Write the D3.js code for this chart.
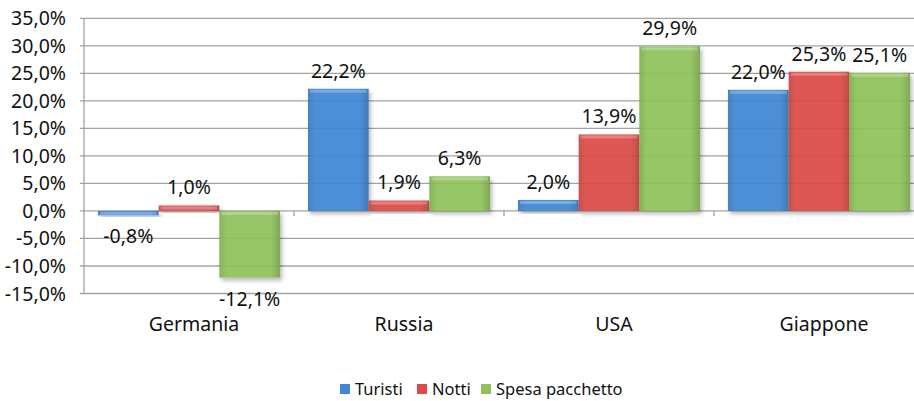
<!DOCTYPE html>
<html>
<head>
<meta charset="utf-8">
<script src="https://cdn.jsdelivr.net/npm/d3@7"></script>
<style>
  body { margin: 0; background: #fff; }
  text { font-family: "Noto Sans", "Open Sans", sans-serif; fill: #111; }
</style>
</head>
<body>
<div class="main"></div>
<script>
// data
const categories = ["Germania", "Russia", "USA", "Giappone"];
const seriesNames = ["Turisti", "Notti", "Spesa pacchetto"];
const turisti = [-0.8, 22.2, 2.0, 22.0];
const notti = [1.0, 1.9, 13.9, 25.3];
const spesa = [-12.1, 6.3, 29.9, 25.1];
const yTicks = [-15, -10, -5, 0, 5, 10, 15, 20, 25, 30, 35];
const colors = ["#3f87d4", "#dc4c48", "#8fc25a"];

const values = [turisti, notti, spesa];
const rows = [];
categories.forEach((c, i) => {
    seriesNames.forEach((s, j) => {
        rows.push({ cat: c, series: s, idx: j, value: values[j][i] });
    });
});

const width = 914;
const height = 401;

const svg = d3.select(".main").append("svg")
    .attr("width", width)
    .attr("height", height);

const locale = d3.formatLocale({ decimal: ",", thousands: ".", grouping: [3], currency: ["", "€"], minus: "-" });
const fmt = v => locale.format(".1f")(v) + "%";

let y = d3.scaleLinear().domain([-15, 35]).range([293.5, 18.3]);
let x0 = d3.scaleBand().domain(categories).range([84, 924]);
let x1 = d3.scaleBand().domain(seriesNames).range([14, 196]);

// gradients for the bars
const defs = svg.append("defs");
colors.forEach((c, j) => {
    const g = defs.append("linearGradient")
        .attr("id", "grad" + j)
        .attr("x1", 0).attr("x2", 1).attr("y1", 0).attr("y2", 0);
    g.append("stop").attr("offset", "0%").attr("stop-color", d3.color(c).darker(0.3));
    g.append("stop").attr("offset", "12%").attr("stop-color", c);
    g.append("stop").attr("offset", "85%").attr("stop-color", c);
    g.append("stop").attr("offset", "100%").attr("stop-color", d3.color(c).darker(0.5));
});
const shadow = defs.append("filter").attr("id", "shadow")
    .attr("x", "-10%").attr("y", "-10%").attr("width", "130%").attr("height", "130%");
shadow.append("feDropShadow")
    .attr("dx", 2).attr("dy", 3).attr("stdDeviation", 2)
    .attr("flood-color", "#000").attr("flood-opacity", 0.3);

// gridlines
svg.append("g")
    .selectAll("line")
    .data(yTicks)
    .enter().append("line")
    .attr("x1", 80)
    .attr("x2", width)
    .attr("y1", d => y(d))
    .attr("y2", d => y(d))
    .attr("stroke", "#a3a3a3")
    .attr("stroke-width", 1.3);

// y axis line
svg.append("line")
    .attr("x1", 84).attr("x2", 84)
    .attr("y1", y(35)).attr("y2", y(-15))
    .attr("stroke", "#a3a3a3")
    .attr("stroke-width", 1.3);

// y labels
svg.append("g")
    .selectAll("text")
    .data(yTicks)
    .enter().append("text")
    .attr("x", 66)
    .attr("y", d => y(d))
    .attr("dy", "0.36em")
    .attr("text-anchor", "end")
    .style("font-size", "19.5px")
    .text(d => fmt(d));

// category ticks on the zero line
svg.append("g")
    .selectAll("line")
    .data(categories.slice(1))
    .enter().append("line")
    .attr("x1", d => x0(d))
    .attr("x2", d => x0(d))
    .attr("y1", y(0))
    .attr("y2", y(0) + 5)
    .attr("stroke", "#a3a3a3")
    .attr("stroke-width", 1.3);

// bars
const bars = svg.append("g").selectAll(".bar")
    .data(rows)
    .enter().append("g")
    .attr("class", "bar")
    .attr("transform", d => `translate(${x0(d.cat) + x1(d.series)},0)`);

bars.append("rect")
    .attr("x", 0)
    .attr("y", d => y(Math.max(0, d.value)))
    .attr("width", x1.bandwidth())
    .attr("height", d => Math.max(2, Math.abs(y(d.value) - y(0))))
    .attr("fill", d => `url(#grad${d.idx})`)
    .attr("opacity", 0.93)
    .attr("filter", "url(#shadow)");

// light top strip for the bevel
bars.append("rect")
    .attr("x", 2)
    .attr("y", d => y(Math.max(0, d.value)) + 1)
    .attr("width", x1.bandwidth() - 4)
    .attr("height", 3)
    .attr("fill", "#fff")
    .attr("opacity", 0.25);

// value labels
svg.append("g").selectAll("text")
    .data(rows)
    .enter().append("text")
    .attr("x", d => x0(d.cat) + x1(d.series) + x1.bandwidth() / 2)
    .attr("y", d => d.value >= 0 ? y(d.value) - 11 : y(d.value) + 28)
    .attr("text-anchor", "middle")
    .style("font-size", "19.5px")
    .text(d => fmt(d.value));

// category labels
svg.append("g").selectAll("text")
    .data(categories)
    .enter().append("text")
    .attr("x", d => x0(d) + x0.bandwidth() / 2 + 5)
    .attr("y", 331)
    .attr("text-anchor", "middle")
    .style("font-size", "19.5px")
    .text(d => d);

// legend
const legendX = [340, 417, 481];
const legend = svg.append("g").selectAll("g")
    .data(seriesNames)
    .enter().append("g")
    .attr("transform", (d, i) => `translate(${legendX[i]},384)`);

legend.append("rect")
    .attr("width", 10)
    .attr("height", 10)
    .attr("fill", (d, i) => colors[i]);

legend.append("text")
    .attr("x", 15)
    .attr("y", 11)
    .style("font-size", "16.5px")
    .text(d => d);
</script>
</body>
</html>
